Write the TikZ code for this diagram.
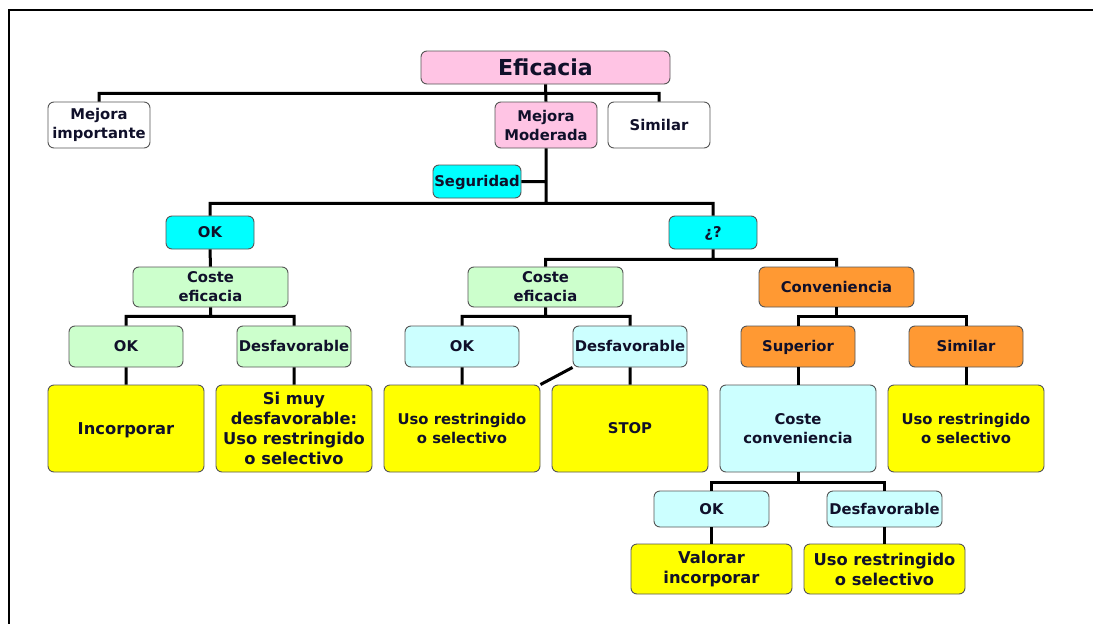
\documentclass[tikz,border=0pt]{standalone}
\usepackage{fontspec}
\setmainfont{DejaVu Sans}
\usepackage{tikz}
\usetikzlibrary{positioning}
\usepackage{xcolor}

\definecolor{rosa}{HTML}{FFC4E4}
\definecolor{cian}{HTML}{00FFFF}
\definecolor{cianclaro}{HTML}{CCFFFF}
\definecolor{verdeclaro}{HTML}{CCFFCC}
\definecolor{naranja}{HTML}{FF9933}
\definecolor{amarillo}{HTML}{FFFF00}
\definecolor{borde}{HTML}{555555}
\definecolor{texto}{HTML}{10102A}

\begin{document}
\begin{tikzpicture}[x=1pt,y=-1pt]
                    \tikzstyle{caja} = [
	shape=rectangle,
	rounded corners=6pt, %rounded border
	draw=borde, %draw the border to the node
	line width=0.9pt,
	align=center,
	text=texto,
	font=\bfseries\fontsize{14.8}{19}\selectfont,
	inner sep=0pt
];
\tikzstyle{unalinea} = [text height=10.8pt, text depth=0pt]; %one line, caps centred
\tikzstyle{grande} = [font=\bfseries\fontsize{16.3}{20}\selectfont];
\tikzstyle{fila1} = [caja, minimum width=102pt, minimum height=46pt];
\tikzstyle{fila2} = [caja, unalinea, minimum width=88pt, minimum height=33pt];
\tikzstyle{fila3} = [caja, minimum width=155pt, minimum height=40pt];
\tikzstyle{fila4} = [caja, unalinea, minimum width=114pt, minimum height=41pt];
\tikzstyle{fila5} = [caja, minimum width=156pt, minimum height=87pt];
\tikzstyle{fila6} = [caja, unalinea, minimum width=115pt, minimum height=36pt];
\tikzstyle{fila7} = [caja, grande, minimum width=161pt, minimum height=50pt];
\tikzstyle{rama} = [line width=3pt, color=black];

\useasboundingbox (0,0) rectangle (1093,624);
\draw[line width=2.5pt] (9,624) -- (9,10) -- (1093,10);

%efficacy
\node[caja, fill=rosa, minimum width=249pt, minimum height=33pt, text height=16pt, text depth=0pt,
	font=\bfseries\fontsize{22}{26}\selectfont](Ef) at (545.5,67.5) {Eficacia};
\node[fila1, fill=white](MI) at (99,125) {Mejora\\importante};
\node[fila1, fill=rosa](MM) at (546,125) {Mejora\\Moderada};
\node[fila1, unalinea, fill=white](Sim) at (659,125) {Similar};

%safety
\node[fila2, fill=cian](Seg) at (477,181.5) {Seguridad};
\node[fila2, fill=cian](SegOK) at (210,232.5) {OK};
\node[fila2, fill=cian](SegDuda) at (713,232.5) {¿?};

%cost effectiveness
\node[fila3, fill=verdeclaro](CEa) at (210.5,287) {Coste\\eficacia};
\node[fila3, fill=verdeclaro](CEb) at (545.5,287) {Coste\\eficacia};
\node[fila3, unalinea, fill=naranja](Conv) at (836.5,287) {Conveniencia};

\node[fila4, fill=verdeclaro](CEaOK) at (126,346.5) {OK};
\node[fila4, fill=verdeclaro](CEaDes) at (294,346.5) {Desfavorable};
\node[fila4, fill=cianclaro](CEbOK) at (462,346.5) {OK};
\node[fila4, fill=cianclaro](CEbDes) at (630,346.5) {Desfavorable};
\node[fila4, fill=naranja](Sup) at (798,346.5) {Superior};
\node[fila4, fill=naranja](ConvSim) at (966,346.5) {Similar};

%decisions
\node[fila5, grande, text height=11.9pt, text depth=0pt, fill=amarillo](Inc) at (126,428.5) {Incorporar};
\node[fila5, grande, fill=amarillo](SiMuy) at (294,428.5) {Si muy\\desfavorable:\\Uso restringido\\o selectivo};
\node[fila5, fill=amarillo](UsoA) at (462,428.5) {Uso restringido\\o selectivo};
\node[fila5, unalinea, fill=amarillo](Stop) at (630,428.5) {STOP};
\node[fila5, fill=cianclaro](CC) at (798,428.5) {Coste\\conveniencia};
\node[fila5, fill=amarillo](UsoB) at (966,428.5) {Uso restringido\\o selectivo};

%cost convenience
\node[fila6, fill=cianclaro](CCOK) at (711.5,509) {OK};
\node[fila6, fill=cianclaro](CCDes) at (884.5,509) {Desfavorable};
\node[fila7, fill=amarillo](Val) at (711.5,569) {Valorar\\incorporar};
\node[fila7, fill=amarillo](UsoC) at (884.5,569) {Uso restringido\\o selectivo};

%branches
\draw[rama]
	(Ef.south) -- ++(0,9) -| (MI.north)
	(Ef.south) -- ++(0,9) -| (Sim.north)
	(Ef.south) -- (MM.north)
	(MM.south) -- ++(0,55) -| (SegOK.north)
	(MM.south) -- ++(0,55) -| (SegDuda.north)
	(Seg.east) -- (Seg.east -| MM.south)
;

\draw[rama]
	(SegOK.south) -- (CEa.north)
	(CEa.south) -- ++(0,9) -| (CEaOK.north)
	(CEa.south) -- ++(0,9) -| (CEaDes.north)
	(CEaOK.south) -- (Inc.north)
	(CEaDes.south) -- (SiMuy.north)
;

\draw[rama]
	(SegDuda.south) -- ++(0,10) -| (CEb.north)
	(SegDuda.south) -- ++(0,10) -| (Conv.north)
	(CEb.south) -- ++(0,9) -| (CEbOK.north)
	(CEb.south) -- ++(0,9) -| (CEbDes.north)
	(CEbOK.south) -- (UsoA.north)
	(CEbDes.south) -- (Stop.north)
	(CEbDes.south west) -- (UsoA.north east)
;

\draw[rama]
	(Conv.south) -- ++(0,9) -| (Sup.north)
	(Conv.south) -- ++(0,9) -| (ConvSim.north)
	(Sup.south) -- (CC.north)
	(ConvSim.south) -- (UsoB.north)
	(CC.south) -- ++(0,10) -| (CCOK.north)
	(CC.south) -- ++(0,10) -| (CCDes.north)
	(CCOK.south) -- (Val.north)
	(CCDes.south) -- (UsoC.north)
;

                \end{tikzpicture}
\end{document}
